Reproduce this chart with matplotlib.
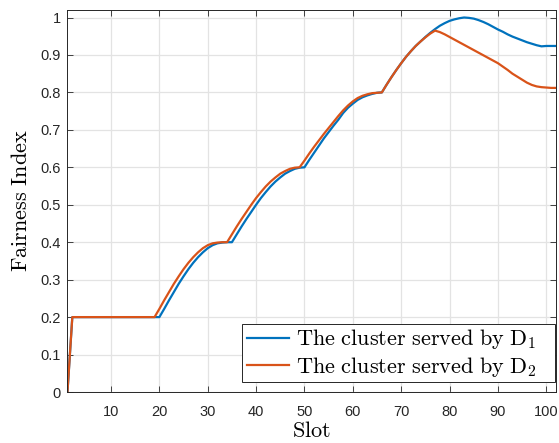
import matplotlib
matplotlib.use('Agg')
import matplotlib.pyplot as plt
from matplotlib.patches import Rectangle

slots = list(range(1, 103))

# fairness index of the cluster served by D1 (one value per slot)
fair_d1 = [0.0] + [0.2] * 19 + [
    0.222, 0.245, 0.267, 0.289, 0.309, 0.328, 0.345, 0.360, 0.373, 0.384,
    0.392, 0.397, 0.399, 0.4, 0.4,
    0.421, 0.442, 0.462, 0.481, 0.5, 0.518, 0.534, 0.549, 0.562, 0.573,
    0.583, 0.590, 0.596, 0.599, 0.6,
    0.620, 0.639, 0.658, 0.677, 0.694, 0.711, 0.727, 0.745, 0.759, 0.770,
    0.780, 0.787, 0.792, 0.796, 0.799, 0.8,
    0.821, 0.841, 0.860, 0.878, 0.895, 0.910, 0.924, 0.936, 0.948, 0.959,
    0.969, 0.978, 0.985, 0.991, 0.995, 0.998, 1.0, 0.999, 0.997,
    0.993, 0.988, 0.982, 0.975, 0.968, 0.962, 0.955, 0.949, 0.944, 0.939,
    0.934, 0.930, 0.926, 0.923, 0.924, 0.924, 0.924]

# fairness index of the cluster served by D2
fair_d2 = [0.0] + [0.2] * 18 + [
    0.222, 0.245, 0.267, 0.289, 0.309, 0.328, 0.345, 0.360, 0.373, 0.384,
    0.392, 0.397, 0.399, 0.4, 0.4,
    0.421, 0.442, 0.462, 0.481, 0.5, 0.518, 0.534, 0.549, 0.562, 0.573,
    0.583, 0.590, 0.596, 0.599, 0.6,
    0.618, 0.637, 0.655, 0.672, 0.689, 0.705, 0.721, 0.737, 0.752, 0.765,
    0.776, 0.785, 0.791, 0.795, 0.798, 0.799, 0.8,
    0.821, 0.841, 0.860, 0.878, 0.895, 0.910, 0.924, 0.936, 0.947, 0.957,
    0.965, 0.961, 0.955, 0.948, 0.941, 0.934, 0.927, 0.920, 0.913,
    0.906, 0.899, 0.892, 0.885, 0.878, 0.869, 0.860, 0.850, 0.842, 0.834,
    0.826, 0.820, 0.816, 0.814, 0.813, 0.812, 0.812]

labels = [r'$\mathrm{The\ cluster\ served\ by\ D}_1$',
          r'$\mathrm{The\ cluster\ served\ by\ D}_2$']

plt.rcParams['font.family'] = ['Liberation Sans', 'DejaVu Sans']
plt.rcParams['mathtext.fontset'] = 'cm'

fig = plt.figure(figsize=(5.59, 4.43), dpi=100)
ax = fig.add_axes([0.1207, 0.1151, 0.8739, 0.8623])

ax.plot(slots, fair_d1, color='#0072BD', lw=1.6, label=labels[0])
ax.plot(slots, fair_d2, color='#D95319', lw=1.6, label=labels[1])

ax.set_xlim(1, 102)
ax.set_ylim(0, 1.02)
ax.set_xticks(range(10, 101, 10))
ax.set_yticks([i / 10 for i in range(11)])
ax.set_yticklabels(['0', '0.1', '0.2', '0.3', '0.4', '0.5', '0.6', '0.7',
                    '0.8', '0.9', '1'])
ax.grid(True, color='#e3e3e3', lw=0.9)
ax.set_axisbelow(True)
ax.tick_params(direction='in', top=True, right=True, length=4,
               width=0.6, color='#262626', labelsize=10.5,
               labelcolor='#262626', pad=5)
ax.tick_params(axis='x', pad=9)
for sp in ax.spines.values():
    sp.set_color('#262626')
    sp.set_linewidth(0.7)

ax.set_xlabel(r'$\mathrm{Slot}$', fontsize=16, labelpad=2)
ax.set_ylabel(r'$\mathrm{Fairness\ Index}$', fontsize=16, labelpad=6)

# legend box drawn separately (MATLAB leaves extra room right of the text)
box = Rectangle((0.3566, 0.027), 0.6414, 0.151, transform=ax.transAxes,
                facecolor='white', edgecolor='#262626', lw=0.7, zorder=4)
ax.add_patch(box)
leg = ax.legend(loc='lower left', bbox_to_anchor=(0.3603, 0.026),
                borderaxespad=0, fontsize=16, frameon=False,
                handlelength=1.9, handletextpad=0.3, borderpad=0.15,
                labelspacing=0.15)
leg.set_zorder(5)

fig.savefig('out.png', dpi=100)
